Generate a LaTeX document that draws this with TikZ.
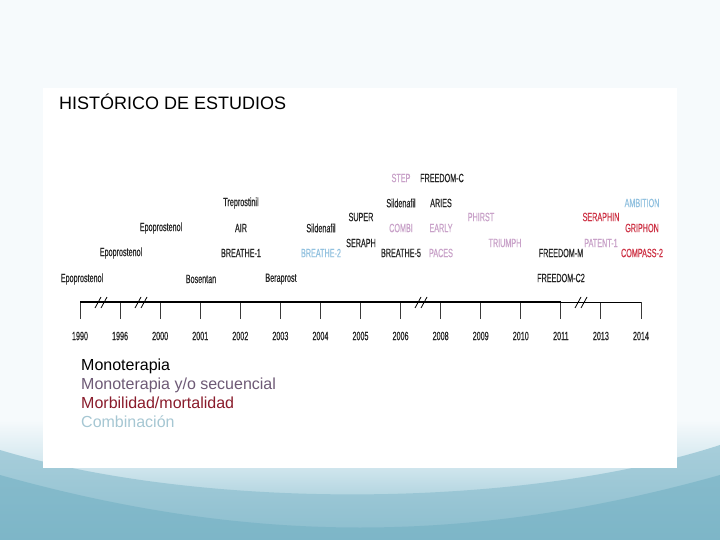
\documentclass[tikz,border=0pt]{standalone}
\usepackage{fontspec}
\setmainfont{Liberation Sans}
\newfontfamily\cond[FakeStretch=0.6,FakeBold=0.4]{Liberation Sans}
\definecolor{bgtop}{HTML}{F6FAFC}
\definecolor{bgmid}{HTML}{CDE4EC}
\definecolor{bgdark}{HTML}{74B1C4}
\definecolor{lilac}{HTML}{C9A2C9}
\definecolor{lblue}{HTML}{93C2E0}
\definecolor{tred}{HTML}{CE3346}
\definecolor{legpurple}{HTML}{6E5A76}
\definecolor{legred}{HTML}{8A1C2C}
\definecolor{legblue}{HTML}{A6C7D3}
\definecolor{axisgray}{HTML}{3A3A3A}
\tikzset{
  lab/.style={font=\cond\fontsize{12}{13}\selectfont, inner sep=0pt, anchor=center},
  mono/.style={lab, text=black!85},
  seq/.style={lab, text=lilac},
  comb/.style={lab, text=lblue},
  morb/.style={lab, text=tred},
  yearlab/.style={lab, text=black!85},
  tickline/.style={draw=axisgray, line width=0.9pt},
  axisline/.style={draw=black, line width=1.3pt},
  brk/.style={draw=black, line width=0.8pt},
  legend/.style={font=\fontsize{16}{19}\selectfont, inner sep=0pt, anchor=base west},
}
\begin{document}
\begin{tikzpicture}[x=1pt,y=-1pt]
\useasboundingbox (0,0) rectangle (720,540);
% background
\fill[bgtop] (0,0) rectangle (720,540);
\shade[top color=bgtop, bottom color=bgmid] (0,420) rectangle (720,470);
\shade[top color=bgmid, bottom color=bgdark!80!bgmid] (0,470) rectangle (720,540);
\fill[bgdark!70!bgmid, opacity=0.7] (0,450) .. controls (200,510) and (520,510) .. (720,445) -- (720,540) -- (0,540) -- cycle;
\fill[bgdark, opacity=0.6] (0,475) .. controls (250,545) and (470,545) .. (720,475) -- (720,540) -- (0,540) -- cycle;
\fill[white] (43,88) rectangle (677,468);
% title
\node[font=\fontsize{18}{20}\selectfont, inner sep=0pt, anchor=west] (title) at (59,102) {HISTÓRICO DE ESTUDIOS};
% axis ticks and years
\foreach \i/\yr in {0/1990,1/1996,2/2000,3/2001,4/2002,5/2003,6/2004,7/2005,8/2006,9/2008,10/2009,11/2010,12/2011,13/2013,14/2014}{
  \coordinate (t\yr) at ({80+40.07*\i},302);
  \coordinate (b\yr) at ({80+40.07*\i},319);
  \draw[tickline] (t\yr) -- (b\yr);
  \node[yearlab] (y\yr) at ({80+40.07*\i},336) {\yr};
}
\draw[axisline] (t1990) -- (t2011);
\draw[axisline, line width=0.9pt] (t2011) -- (t2014);
% breaks
\foreach \bx in {101,141,421,581}{
  \draw[brk] ({\bx-6},308) -- ({\bx},297);
  \draw[brk] ({\bx},308) -- ({\bx+6},297);
}
% labels
\node[mono] (ep1) at (82,279) {Epoprostenol};
\node[mono] (ep2) at (121,253) {Epoprostenol};
\node[mono] (ep3) at (161,228) {Epoprostenol};
\node[mono] (bos) at (201,279) {Bosentan};
\node[mono] (tre) at (241,203) {Treprostinil};
\node[mono] (air) at (241,228) {AIR};
\node[mono] (br1) at (241,253) {BREATHE-1};
\node[mono] (ber) at (281,279) {Beraprost};
\node[mono] (sil1) at (321,228) {Sildenafil};
\node[comb] (br2) at (321,253) {BREATHE-2};
\node[mono] (sup) at (361,217) {SUPER};
\node[mono] (ser) at (361,243) {SERAPH};
\node[seq] (step) at (401,178) {STEP};
\node[mono] (sil2) at (401,203) {Sildenafil};
\node[seq] (combi) at (401,228) {COMBI};
\node[mono] (br5) at (401,253) {BREATHE-5};
\node[mono] (frc) at (442,178) {FREEDOM-C};
\node[mono] (ari) at (441,203) {ARIES};
\node[seq] (ear) at (441,228) {EARLY};
\node[seq] (pac) at (441,253) {PACES};
\node[seq] (phi) at (481,217) {PHIRST};
\node[seq] (tri) at (505,243) {TRIUMPH};
\node[mono] (frm) at (561,253) {FREEDOM-M};
\node[mono] (frc2) at (561,278) {FREEDOM-C2};
\node[morb] (seraphin) at (601,217) {SERAPHIN};
\node[seq] (pat) at (601,243) {PATENT-1};
\node[comb] (amb) at (642,203) {AMBITION};
\node[morb] (gri) at (642,228) {GRIPHON};
\node[morb] (com) at (642,253) {COMPASS-2};
% legend
\node[legend, text=black] (l1) at (81,370) {Monoterapia};
\node[legend, text=legpurple] (l2) at (81,389) {Monoterapia y/o secuencial};
\node[legend, text=legred] (l3) at (81,408) {Morbilidad/mortalidad};
\node[legend, text=legblue] (l4) at (81,427) {Combinación};
\end{tikzpicture}
\end{document}
